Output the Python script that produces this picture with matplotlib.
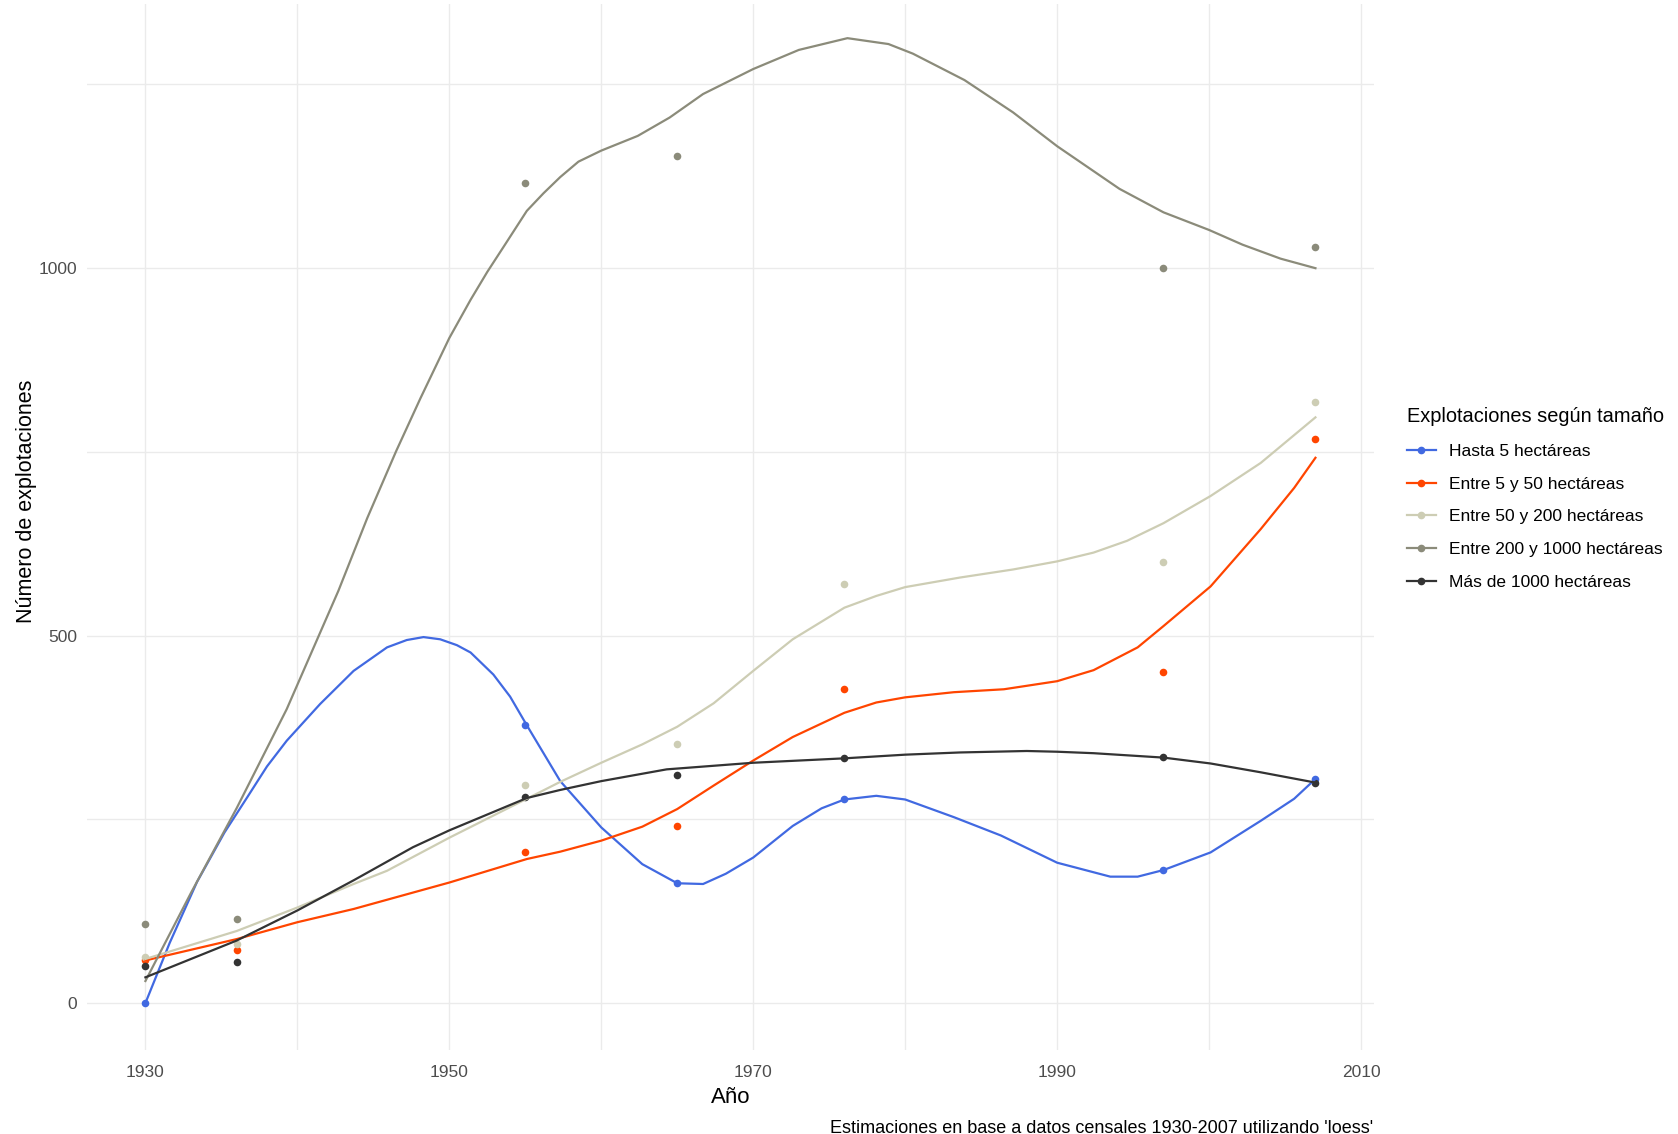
import numpy as np
import matplotlib
matplotlib.use("Agg")
import matplotlib.pyplot as plt
from matplotlib.lines import Line2D

plt.rcParams['font.family'] = ['Liberation Sans', 'DejaVu Sans']

# Census years and observed values
anios = [1930, 1936, 1955, 1965, 1976, 1997, 2007]
hasta_5 = [0, np.nan, 378, 163, 277, 181, 305]
entre_5_50 = [58, 72, 206, 241, 427, 450, 768]
entre_50_200 = [62, 80, 297, 352, 570, 600, 818]
entre_200_1000 = [107, 114, 1116, 1152, np.nan, 1000, 1029]
mas_1000 = [50, 56, 281, 310, 333, 335, 300]

# loess curves
suave_hasta_5_x = [1930, 1931.6, 1933.4, 1935.2, 1936.7, 1938, 1939.3, 1941.5, 1943.7, 1945.9, 1947.2,
                   1948.3, 1949.4, 1950.5, 1951.4, 1952.9, 1954, 1955.1, 1957.3, 1960, 1962.7,
                   1965, 1966.7, 1968.2, 1970, 1972.6, 1974.5, 1976, 1978.1, 1980, 1983.2,
                   1986.3, 1990, 1993.5, 1995.3, 1997, 2000.1, 2003.4, 2005.6, 2007]
suave_hasta_5_y = [0, 82, 165, 232, 280, 322, 357, 407, 452, 484, 494,
                   498, 495, 487, 477, 447, 417, 378, 302, 239, 189,
                   163, 162, 176, 198, 241, 265, 277, 282, 277, 253,
                   228, 191, 172, 172, 181, 205, 248, 278, 305]

suave_5_50_x = [1930, 1936, 1940, 1943.7, 1950, 1955.1, 1957.3, 1960, 1962.7, 1965, 1967.4,
                1970, 1972.6, 1976, 1978.1, 1980, 1983.2, 1986.5, 1990, 1992.4, 1995.3,
                1997, 2000.1, 2003.4, 2005.6, 2007]
suave_5_50_y = [58, 87, 110, 128, 164, 196, 206, 221, 240, 264, 296,
                330, 362, 395, 409, 416, 423, 427, 438, 453, 484,
                513, 567, 645, 701, 742]

suave_50_200_x = [1930, 1936, 1940, 1943.7, 1945.9, 1950, 1955.1, 1957.3, 1960, 1962.7, 1965,
                  1967.4, 1970, 1972.6, 1976, 1978.1, 1980, 1983.6, 1987.1, 1990, 1992.4,
                  1994.6, 1997, 2000.1, 2003.4, 2007]
suave_50_200_y = [60, 98, 130, 162, 180, 225, 278, 301, 327, 352, 376,
                  408, 452, 495, 538, 554, 566, 579, 590, 601, 613,
                  629, 653, 690, 735, 797]

suave_200_1000_x = [1930, 1933, 1936, 1939.3, 1942.7, 1944.6, 1946.5, 1948.1, 1950, 1951.4,
                    1952.5, 1953.6, 1955.1, 1956.2, 1957.3, 1958.5, 1960, 1962.4, 1964.5, 1966.7,
                    1970, 1973, 1976.2, 1978.9, 1980.5, 1983.9, 1987.1, 1990, 1994.1, 1997,
                    2000, 2002.2, 2004.7, 2007]
suave_200_1000_y = [30, 150, 265, 400, 561, 660, 751, 823, 905, 957,
                    995, 1030, 1078, 1102, 1124, 1145, 1160, 1180, 1205, 1237,
                    1271, 1297, 1313, 1305, 1292, 1256, 1212, 1166, 1108, 1076,
                    1052, 1032, 1013, 1000]

suave_mas_1000_x = [1930, 1936, 1940, 1943.7, 1947.6, 1950, 1955.1, 1957.3, 1960, 1964.3,
                    1970, 1976, 1980, 1983.6, 1988, 1990, 1992.4, 1997, 2000.1, 2003.4, 2007]
suave_mas_1000_y = [35, 85, 126, 167, 212, 235, 279, 290, 302, 318,
                    327, 333, 338, 341, 343, 342, 340, 334, 326, 314, 300]

series = [
    ("Hasta 5 hectáreas", "#4169E1", hasta_5, suave_hasta_5_x, suave_hasta_5_y),
    ("Entre 5 y 50 hectáreas", "#FF4500", entre_5_50, suave_5_50_x, suave_5_50_y),
    ("Entre 50 y 200 hectáreas", "#CDCDB4", entre_50_200, suave_50_200_x, suave_50_200_y),
    ("Entre 200 y 1000 hectáreas", "#8B8B7A", entre_200_1000, suave_200_1000_x, suave_200_1000_y),
    ("Más de 1000 hectáreas", "#333333", mas_1000, suave_mas_1000_x, suave_mas_1000_y),
]

fig = plt.figure(figsize=(16.78, 11.34), dpi=100)
ax = fig.add_axes([0.0518, 0.0740, 0.7670, 0.9228])

handles = []
for nombre, color, puntos, sx, sy in series:
    ax.scatter(anios, puntos, s=30, color=color, zorder=3, linewidths=0)
    ax.plot(sx, sy, color=color, lw=1.6, zorder=4, solid_joinstyle='round')
    handles.append(Line2D([0], [0], color=color, lw=1.6, marker='o', markersize=4.5, label=nombre))

ax.set_xlim(1926.15, 2010.85)
ax.set_ylim(-64, 1360)
ax.set_xticks([1930, 1950, 1970, 1990, 2010])
ax.set_xticks([1940, 1960, 1980, 2000], minor=True)
ax.set_yticks([0, 500, 1000])
ax.set_yticks([250, 750, 1250], minor=True)
ax.grid(True, which='both', color='#EBEBEB', lw=1.0)
ax.set_axisbelow(True)
for s in ax.spines.values():
    s.set_visible(False)
ax.tick_params(which='both', length=0, labelsize=12.5, labelcolor='#4D4D4D')
ax.tick_params(axis='x', pad=10.5)
ax.tick_params(axis='y', pad=7)

ax.set_xlabel("Año", fontsize=16, labelpad=5)
ax.set_ylabel("Número de explotaciones", fontsize=15.5)
ax.yaxis.set_label_coords(-0.0385, 0.524)

fig.legend(handles=handles, title="Explotaciones según tamaño", loc='upper left',
           bbox_to_anchor=(0.829, 0.655), frameon=False, fontsize=12.5,
           title_fontsize=14.4, handlelength=1.7, handletextpad=0.75,
           labelspacing=1.02, alignment='left')

fig.text(0.8185, 0.005, "Estimaciones en base a datos censales 1930-2007 utilizando 'loess'",
         ha='right', va='center', fontsize=13)

fig.savefig("out.png", dpi=100)
